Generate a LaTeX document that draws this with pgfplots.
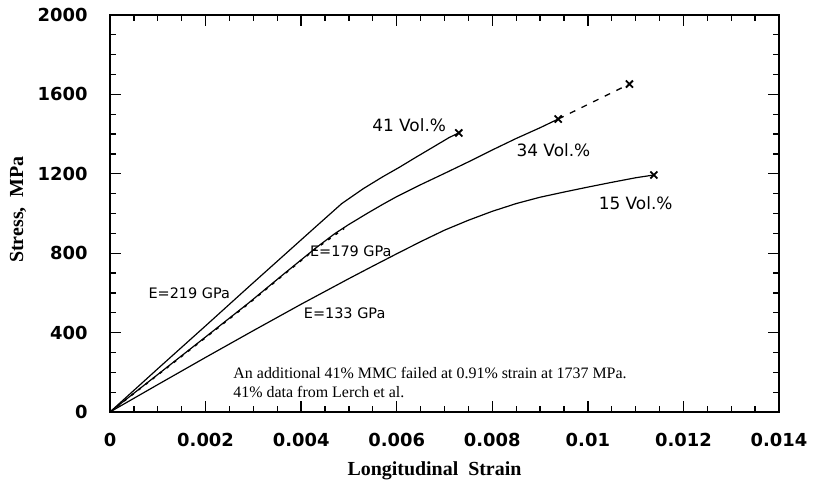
\documentclass[border=0pt]{standalone}
\usepackage{fontspec}
\setmainfont{Liberation Serif}
\newfontfamily\dv{DejaVu Sans}
\usepackage{pgfplots}
\pgfplotsset{compat=1.18}
\begin{document}
\begin{tikzpicture}
\begin{axis}[name=ax, scale only axis, width=669bp, height=397bp,
  xmin=0, xmax=0.014, ymin=0, ymax=2000,
  xtick={0,0.002,0.004,0.006,0.008,0.01,0.012,0.014},
  xticklabels={0,0.002,0.004,0.006,0.008,0.01,0.012,0.014},
  ytick={0,400,800,1200,1600,2000},
  yticklabels={0,400,800,1200,1600,2000},
  minor x tick num=3, minor y tick num=3,
  scaled x ticks=false, scaled y ticks=false,
  tick align=inside, major tick length=11bp, minor tick length=6bp,
  axis line style={line width=2.2pt},
  every tick/.style={black, line width=1.3pt},
  tick label style={font=\dv\bfseries\fontsize{18}{18}\selectfont},
  xticklabel style={yshift=-18bp},
  yticklabel style={xshift=-19bp},
  clip=false,
]
% 41 Vol.%
\addplot[black, line width=1.2pt] coordinates {
(0,0) (0.001,218) (0.002,434) (0.0029,630) (0.0036,781) (0.0043,932)
(0.00485,1050) (0.0053,1125) (0.0057,1184) (0.00605,1232) (0.0064,1283)
(0.0068,1340) (0.0071,1383) (0.0073,1406)};
% 34 Vol.%
\addplot[black, line width=1.2pt] coordinates {
(0,0) (0.001,189) (0.002,378) (0.0029,549) (0.0036,688) (0.0043,825)
(0.0047,898) (0.005,945) (0.0054,1003) (0.0057,1045) (0.006,1085)
(0.0065,1145) (0.007,1202) (0.0075,1260) (0.008,1320) (0.0085,1378)
(0.009,1432) (0.00938,1476)};
% dashed overlay on 34 Vol.% (E=179 GPa)
\addplot[black, line width=1.6pt, dash pattern=on 3pt off 6pt] coordinates {
(0,0) (0.001,187) (0.002,375) (0.0029,546) (0.0036,685) (0.0043,822) (0.0049,925)};
% dashed extension
\addplot[black, line width=1.3pt, dash pattern=on 6pt off 7pt] coordinates {
(0.00938,1476) (0.01087,1652)};
% 15 Vol.%
\addplot[black, line width=1.2pt] coordinates {
(0,0) (0.001,138) (0.002,275) (0.003,410) (0.004,543) (0.005,672)
(0.0055,735) (0.006,797) (0.0065,858) (0.007,916) (0.0075,966)
(0.008,1011) (0.0085,1050) (0.009,1082) (0.0095,1108) (0.010,1133)
(0.0105,1157) (0.011,1180) (0.01138,1194)};
% failure marks
\addplot[only marks, mark=x, mark size=5pt, mark options={line width=1.8pt, black}] coordinates {
(0.0073,1406) (0.00938,1476) (0.01087,1652) (0.01138,1194)};
% labels
\node[font=\dv\fontsize{17}{17}\selectfont] at (axis cs:0.00626,1446) {41 Vol.\%};
\node[font=\dv\fontsize{17}{17}\selectfont] at (axis cs:0.00928,1320) {34 Vol.\%};
\node[font=\dv\fontsize{17}{17}\selectfont] at (axis cs:0.0110,1053) {15 Vol.\%};
\node[font=\dv\fontsize{14.5}{14.5}\selectfont] at (axis cs:0.00166,600) {E=219 GPa};
\node[font=\dv\fontsize{14.5}{14.5}\selectfont] at (axis cs:0.00504,811) {E=179 GPa};
\node[font=\dv\fontsize{14.5}{14.5}\selectfont] at (axis cs:0.00491,499) {E=133 GPa};
\node[anchor=west, inner sep=0pt, font=\fontsize{16}{16}\selectfont] at (axis cs:0.00258,196) {An additional 41\% MMC failed at 0.91\% strain at 1737 MPa.};
\node[anchor=west, inner sep=0pt, font=\fontsize{16}{16}\selectfont] at (axis cs:0.00258,101) {41\% data from Lerch et al.};
\end{axis}
\node[rotate=90, font=\bfseries\fontsize{20}{20}\selectfont] at ([shift={(-92bp,4bp)}]ax.west) {Stress,~~MPa};
\node[inner sep=0pt, anchor=base, font=\bfseries\fontsize{20}{20}\selectfont] at ([shift={(-10bp,-63bp)}]ax.south) {Longitudinal~~Strain};
\pgfresetboundingbox
\path ([shift={(-110bp,-70bp)}]ax.south west) rectangle ([shift={(35bp,15bp)}]ax.north east);
\end{tikzpicture}
\end{document}
